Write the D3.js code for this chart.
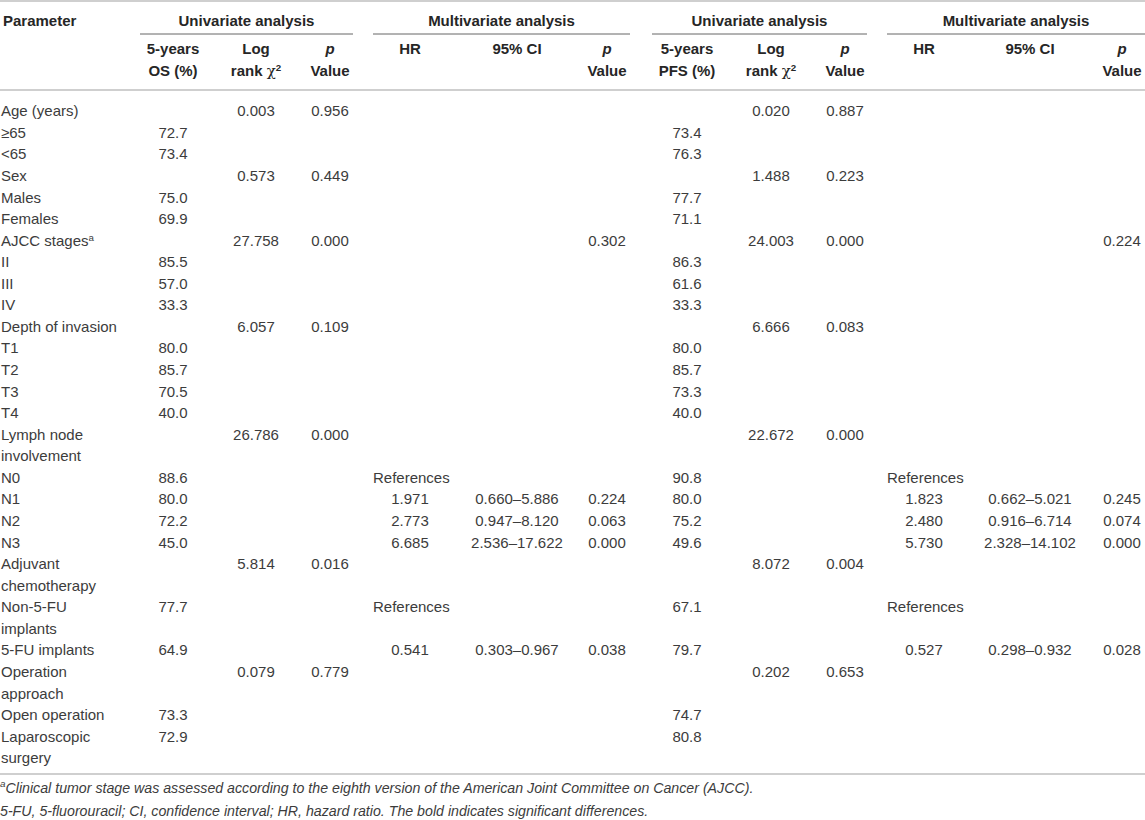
<!DOCTYPE html>
<html>
<head>
<meta charset="utf-8">
<script src="https://cdn.jsdelivr.net/npm/d3@7"></script>
<style>
  body { margin: 0; background: #fff; }
</style>
</head>
<body>
<div id="chart"></div>
<script>
// parameter labels, one entry per table row (a row may wrap onto two lines)
const parameters = [
  ["Age (years)"], ["≥65"], ["<65"],
  ["Sex"], ["Males"], ["Females"],
  ["AJCC stages^a"], ["II"], ["III"], ["IV"],
  ["Depth of invasion"], ["T1"], ["T2"], ["T3"], ["T4"],
  ["Lymph node", "involvement"], ["N0"], ["N1"], ["N2"], ["N3"],
  ["Adjuvant", "chemotherapy"], ["Non-5-FU", "implants"], ["5-FU implants"],
  ["Operation", "approach"], ["Open operation"], ["Laparoscopic", "surgery"]
]

// overall survival
const osRate    = ["", "72.7", "73.4", "", "75.0", "69.9", "", "85.5", "57.0", "33.3", "", "80.0", "85.7", "70.5", "40.0", "", "88.6", "80.0", "72.2", "45.0", "", "77.7", "64.9", "", "73.3", "72.9"]
const osLogRank = ["0.003", "", "", "0.573", "", "", "27.758", "", "", "", "6.057", "", "", "", "", "26.786", "", "", "", "", "5.814", "", "", "0.079", "", ""]
const osP       = ["0.956", "", "", "0.449", "", "", "0.000", "", "", "", "0.109", "", "", "", "", "0.000", "", "", "", "", "0.016", "", "", "0.779", "", ""]
const osHR      = ["", "", "", "", "", "", "", "", "", "", "", "", "", "", "", "", "References", "1.971", "2.773", "6.685", "", "References", "0.541", "", "", ""]
const osCI      = ["", "", "", "", "", "", "", "", "", "", "", "", "", "", "", "", "", "0.660–5.886", "0.947–8.120", "2.536–17.622", "", "", "0.303–0.967", "", "", ""]
const osMultiP  = ["", "", "", "", "", "", "0.302", "", "", "", "", "", "", "", "", "", "", "0.224", "0.063", "0.000", "", "", "0.038", "", "", ""]

// progression-free survival
const pfsRate    = ["", "73.4", "76.3", "", "77.7", "71.1", "", "86.3", "61.6", "33.3", "", "80.0", "85.7", "73.3", "40.0", "", "90.8", "80.0", "75.2", "49.6", "", "67.1", "79.7", "", "74.7", "80.8"]
const pfsLogRank = ["0.020", "", "", "1.488", "", "", "24.003", "", "", "", "6.666", "", "", "", "", "22.672", "", "", "", "", "8.072", "", "", "0.202", "", ""]
const pfsP       = ["0.887", "", "", "0.223", "", "", "0.000", "", "", "", "0.083", "", "", "", "", "0.000", "", "", "", "", "0.004", "", "", "0.653", "", ""]
const pfsHR      = ["", "", "", "", "", "", "", "", "", "", "", "", "", "", "", "", "References", "1.823", "2.480", "5.730", "", "References", "0.527", "", "", ""]
const pfsCI      = ["", "", "", "", "", "", "", "", "", "", "", "", "", "", "", "", "", "0.662–5.021", "0.916–6.714", "2.328–14.102", "", "", "0.298–0.932", "", "", ""]
const pfsMultiP  = ["", "", "", "", "", "", "0.224", "", "", "", "", "", "", "", "", "", "", "0.245", "0.074", "0.000", "", "", "0.028", "", "", ""]

const groupTitles = ["Univariate analysis", "Multivariate analysis", "Univariate analysis", "Multivariate analysis"]
const columnHeads = [
  ["5-years", "OS (%)"], ["Log", "rank ~χ^2"], ["*p", "Value"],
  ["HR"], ["95% CI"], ["*p", "Value"],
  ["5-years", "PFS (%)"], ["Log", "rank ~χ^2"], ["*p", "Value"],
  ["HR"], ["95% CI"], ["*p", "Value"]
]
const footnotes = [
  "^aClinical tumor stage was assessed according to the eighth version of the American Joint Committee on Cancer (AJCC).",
  "5-FU, 5-fluorouracil; CI, confidence interval; HR, hazard ratio. The bold indicates significant differences."
]

const columns = [osRate, osLogRank, osP, osHR, osCI, osMultiP, pfsRate, pfsLogRank, pfsP, pfsHR, pfsCI, pfsMultiP]

const width = 1145, height = 820
const font = "'Liberation Sans', Arial, Helvetica, sans-serif"
const textColor = "#3c3c3c"
const headColor = "#262626"
const ruleColor = "#cfcfcf"
const fs = 15

const svg = d3.select("#chart").append("svg")
  .attr("width", width)
  .attr("height", height)
  .style("font-family", font)

// column centres and group extents
const colX = d3.scaleOrdinal()
  .domain(d3.range(columns.length))
  .range([173, 256, 330, 410, 517, 607, 687, 771, 845, 924, 1030, 1122])
const groupX = d3.scaleOrdinal()
  .domain(d3.range(4))
  .range([[140, 353], [373, 630], [652, 867], [887, 1145]])

// which text line each parameter row starts on
const lineStart = []
let ln = 0
parameters.forEach(p => { lineStart.push(ln); ln += p.length })
const lineY = d3.scaleLinear().domain([0, ln - 1]).range([111, 758])

// text with optional markers: leading * = italic, ~ = serif glyph, ^ = superscript
function richText(sel, s) {
  if (s.startsWith("*")) {
    sel.append("tspan").attr("font-style", "italic").text(s.slice(1))
    return
  }
  let [main, sup] = s.split("^")
  const tilde = main.indexOf("~")
  if (tilde >= 0) {
    sel.append("tspan").text(main.slice(0, tilde))
    sel.append("tspan")
      .attr("font-family", "'DejaVu Serif', 'Liberation Serif', serif")
      .attr("font-weight", "normal")
      .text(main.slice(tilde + 1))
  } else {
    sel.append("tspan").text(main)
  }
  if (sup !== undefined) {
    sel.append("tspan")
      .attr("dy", "-0.45em")
      .attr("font-size", "0.65em")
      .text(sup)
  }
}

// rules
const rules = [
  { y: 1, w: 2 },
  { y: 90, w: 2 },
  { y: 774, w: 2 }
]
svg.selectAll(".rule")
  .data(rules)
  .join("line")
  .attr("class", "rule")
  .attr("x1", 0).attr("x2", width)
  .attr("y1", d => d.y).attr("y2", d => d.y)
  .attr("stroke", ruleColor)
  .attr("stroke-width", d => d.w)

// group headings and underlines
svg.selectAll(".group-line")
  .data(groupTitles)
  .join("line")
  .attr("class", "group-line")
  .attr("x1", (d, i) => groupX(i)[0])
  .attr("x2", (d, i) => groupX(i)[1])
  .attr("y1", 34).attr("y2", 34)
  .attr("stroke", "#666")
  .attr("stroke-width", 1)

svg.selectAll(".group-title")
  .data(groupTitles)
  .join("text")
  .attr("class", "group-title")
  .attr("x", (d, i) => (groupX(i)[0] + groupX(i)[1]) / 2)
  .attr("y", 21)
  .attr("dy", "0.35em")
  .attr("text-anchor", "middle")
  .attr("font-size", fs)
  .attr("font-weight", "bold")
  .attr("fill", headColor)
  .text(d => d)

svg.append("text")
  .attr("x", 3).attr("y", 21).attr("dy", "0.35em")
  .attr("font-size", fs)
  .attr("font-weight", "bold")
  .attr("fill", headColor)
  .text("Parameter")

// column headings
columnHeads.forEach((lines, ci) => {
  lines.forEach((s, li) => {
    const t = svg.append("text")
      .attr("x", colX(ci))
      .attr("y", 49 + li * 21.5)
      .attr("dy", "0.35em")
      .attr("text-anchor", "middle")
      .attr("font-size", fs)
      .attr("font-weight", "bold")
      .attr("fill", headColor)
    richText(t, s)
  })
})

// parameter labels
parameters.forEach((lines, ri) => {
  lines.forEach((s, li) => {
    const t = svg.append("text")
      .attr("x", 1)
      .attr("y", lineY(lineStart[ri] + li))
      .attr("dy", "0.35em")
      .attr("font-size", fs)
      .attr("fill", textColor)
    richText(t, s)
  })
})

// cell values
const cells = []
columns.forEach((col, ci) => {
  col.forEach((v, ri) => { if (v !== "") cells.push({ ci, ri, v }) })
})
svg.selectAll(".cell")
  .data(cells)
  .join("text")
  .attr("class", "cell")
  .attr("x", d => d.v === "References" ? groupX(d.ci < 6 ? 1 : 3)[0] : colX(d.ci))
  .attr("y", d => lineY(lineStart[d.ri]))
  .attr("dy", "0.35em")
  .attr("text-anchor", d => d.v === "References" ? "start" : "middle")
  .attr("font-size", fs)
  .attr("fill", textColor)
  .text(d => d.v)

// footnotes
footnotes.forEach((s, i) => {
  const t = svg.append("text")
    .attr("x", 0)
    .attr("y", 791 + i * 20.5)
    .attr("dy", "0.35em")
    .attr("font-size", 14.2)
    .attr("font-style", "italic")
    .attr("fill", textColor)
  if (s.startsWith("^")) {
    t.append("tspan").attr("dy", "-0.4em").attr("font-size", "0.7em").text(s.charAt(1))
    t.append("tspan").attr("dy", "0.4em").text(s.slice(2))
  } else {
    t.text(s)
  }
})
</script>
</body>
</html>
